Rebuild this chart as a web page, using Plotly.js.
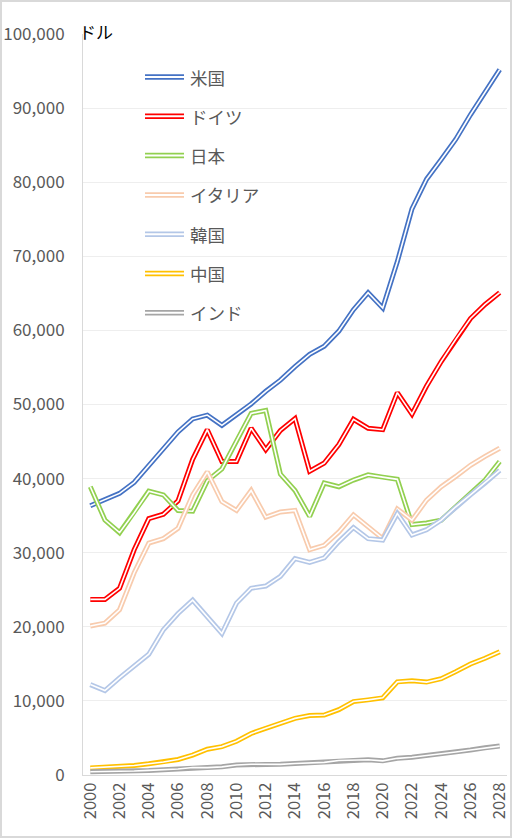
<!DOCTYPE html>
<html>
<head>
<meta charset="utf-8">
<script src="https://cdn.plot.ly/plotly-3.0.1.min.js"></script>
<style>
html,body{margin:0;padding:0;background:#fff;}
#wrap{position:relative;width:512px;height:839px;}
#chart{width:512px;height:839px;}
#frame{position:absolute;left:0;top:0;width:508px;height:834px;border:2px solid #d9d9d9;pointer-events:none;}
</style>
</head>
<body>
<div id="wrap"><div id="chart"></div><div id="frame"></div></div>
<script>
const years = [2000,2001,2002,2003,2004,2005,2006,2007,2008,2009,2010,2011,2012,2013,2014,2015,2016,2017,2018,2019,2020,2021,2022,2023,2024,2025,2026,2027,2028];
const seriesNames = ["米国","ドイツ","日本","イタリア","韓国","中国","インド"];
const usa     = [36330,37130,38000,39490,41730,44120,46300,48050,48570,47190,48650,50070,51780,53290,55120,56760,57870,59910,62800,65100,63030,69290,76400,80410,83060,85800,89100,92100,95200];
const germany = [23700,23700,25200,30400,34600,35200,37000,42600,46600,42300,42300,46800,43900,46500,48100,41000,42100,44600,48000,46800,46600,51600,48700,52500,55800,58800,61600,63500,65100];
const japan   = [38900,34400,32700,35400,38300,37800,35700,35600,39700,41300,45100,48800,49200,40600,38400,34900,39400,38900,39800,40500,40200,39900,33800,34000,34400,36200,38000,39800,42300];
const italy   = [20100,20500,22300,27300,31300,31900,33300,37800,40900,36900,35700,38400,34800,35500,35700,30400,31000,32800,35100,33500,31900,35900,34400,37100,38900,40300,41800,43000,44100];
const korea   = [12200,11400,13100,14700,16300,19600,21800,23600,21300,19100,23200,25200,25500,26800,29200,28700,29300,31500,33400,31900,31700,35300,32400,33100,34400,36200,37800,39400,41100];
const china   = [960,1050,1150,1290,1510,1750,2100,2690,3470,3830,4550,5610,6300,7020,7640,8020,8090,8820,9910,10140,10410,12570,12720,12540,13000,13950,14980,15750,16640];
const india   = [440,450,470,540,620,710,800,1020,1000,1100,1350,1450,1430,1440,1560,1590,1710,1960,1970,2050,1910,2250,2390,2600,2850,3100,3380,3680,3900];
const seriesValues = [usa,germany,japan,italy,korea,china,india];
const colors = ["#4472C4","#FF0000","#92D050","#F8CBAD","#B4C7E7","#FFC000","#A5A5A5"];

const traces = [];
seriesValues.forEach((vals,i)=>{
  traces.push({x:years,y:vals,type:'scatter',mode:'lines',name:seriesNames[i],
    line:{color:colors[i],width:5},showlegend:false,hoverinfo:'skip'});
  traces.push({x:years,y:vals,type:'scatter',mode:'lines',name:seriesNames[i]+'_inner',
    line:{color:'#ffffff',width:1.6},showlegend:false,hoverinfo:'skip'});
});

// plot area geometry (pixels)
const L=83, R=5, T=34, B=64, W=512, H=839;
const pw=W-L-R, ph=H-T-B;
const px2x = p => (p-L)/pw;
const py2y = p => (H-B-p)/ph;

const shapes=[], annotations=[];
const legY0=77, legDY=39.3;
seriesNames.forEach((n,i)=>{
  const yy = py2y(legY0+i*legDY);
  shapes.push({type:'line',xref:'paper',yref:'paper',x0:px2x(145),x1:px2x(184),y0:yy,y1:yy,line:{color:colors[i],width:5.5}});
  shapes.push({type:'line',xref:'paper',yref:'paper',x0:px2x(145),x1:px2x(184),y0:yy,y1:yy,line:{color:'#ffffff',width:2}});
  annotations.push({xref:'paper',yref:'paper',x:px2x(188),y:yy,xanchor:'left',yanchor:'middle',showarrow:false,
    text:n,font:{size:17.5,color:'#595959',family:'"Noto Sans CJK JP", sans-serif'}});
});
annotations.push({xref:'paper',yref:'paper',x:px2x(77),y:py2y(31),xanchor:'left',yanchor:'middle',showarrow:false,
  text:'ドル',font:{size:17,color:'#000000',family:'"Noto Sans CJK JP", sans-serif'}});

const layout={
  width:W,height:H,
  margin:{l:L,r:R,t:T,b:B,pad:0},
  paper_bgcolor:'#ffffff',plot_bgcolor:'#ffffff',
  font:{family:'"Noto Sans CJK JP", "Liberation Sans", sans-serif',size:16,color:'#595959'},
  showlegend:false,
  xaxis:{type:'linear',range:[1999.5,2028.5],tickmode:'linear',tick0:2000,dtick:2,tickangle:-90,
    showgrid:false,zeroline:false,showline:true,linecolor:'#d9d9d9',linewidth:1,ticks:'',
    tickfont:{size:16.5,color:'#595959'},fixedrange:true},
  yaxis:{range:[0,100000],tickmode:'linear',tick0:0,dtick:10000,tickformat:',d',
    showgrid:true,gridcolor:'#eeeeee',gridwidth:1,zeroline:false,showline:true,linecolor:'#d9d9d9',linewidth:1,
    ticks:'',ticklabelstandoff:14,tickfont:{size:17,color:'#595959'},fixedrange:true},
  shapes:shapes,annotations:annotations
};
Plotly.newPlot('chart',traces,layout,{staticPlot:true,displayModeBar:false});
</script>
</body>
</html>
